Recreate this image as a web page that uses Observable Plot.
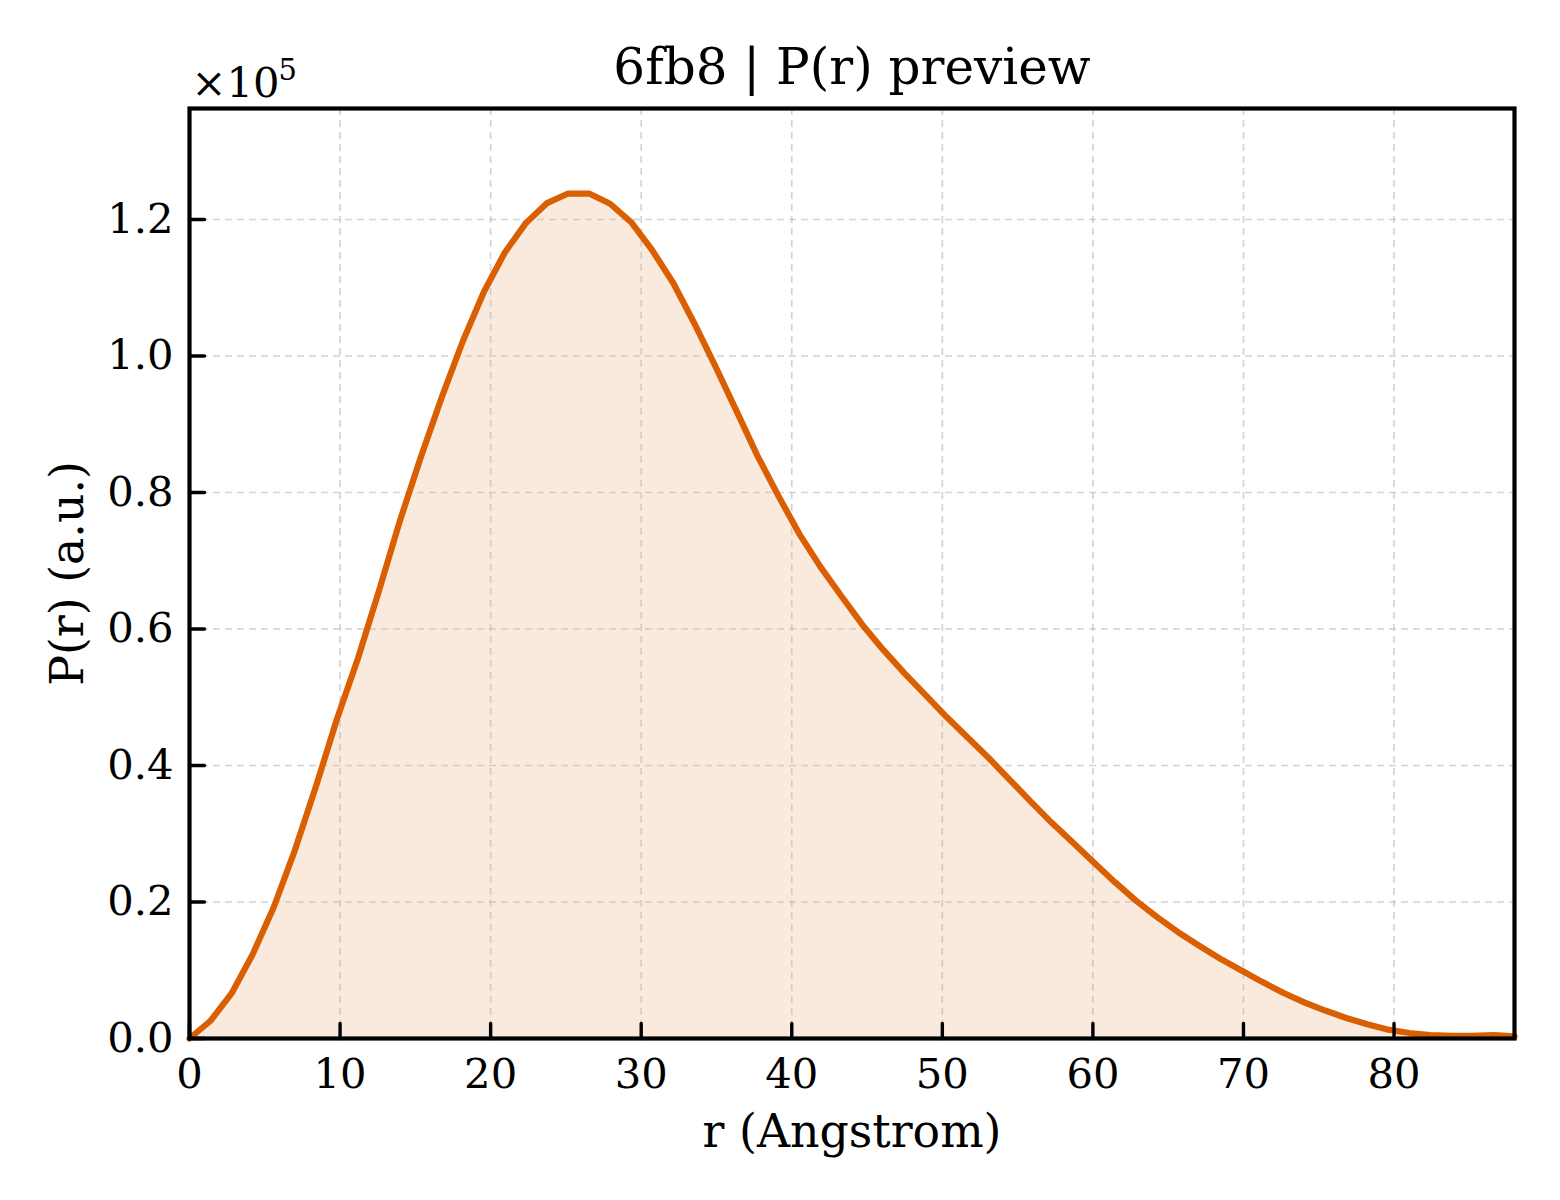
<!DOCTYPE html>
<html>
<head>
<meta charset="utf-8">
<script src="https://cdn.jsdelivr.net/npm/d3@7"></script>
<script src="https://cdn.jsdelivr.net/npm/@observablehq/plot@0.6"></script>
<style>
  html, body { margin: 0; padding: 0; background: #fff; }
  #chart { width: 1560px; height: 1200px; }
</style>
</head>
<body>
<div id="chart"></div>
<script>
// ---- data ----
const titleText = "6fb8 | P(r) preview";
const xLabel = "r (Angstrom)";
const yLabel = "P(r) (a.u.)";
const offsetBase = "×10";
const offsetExp = "5";
const rMax = 88;
const pValues = [
  0.000, 0.026, 0.066, 0.123, 0.192, 0.275, 0.368, 0.467, 0.556, 0.655,
  0.758, 0.852, 0.940, 1.022, 1.094, 1.152, 1.195, 1.224, 1.238, 1.238,
  1.223, 1.196, 1.155, 1.107, 1.048, 0.985, 0.920, 0.854, 0.795, 0.739,
  0.691, 0.648, 0.606, 0.569, 0.535, 0.503, 0.471, 0.441, 0.411, 0.379,
  0.347, 0.316, 0.287, 0.258, 0.229, 0.202, 0.178, 0.156, 0.136, 0.117,
  0.100, 0.083, 0.067, 0.053, 0.041, 0.030, 0.021, 0.013, 0.008, 0.005,
  0.004, 0.004, 0.005, 0.003
].map(v => v * 1e5);
const rValues = pValues.map((_, i) => i * rMax / (pValues.length - 1));
const xTicks = [0, 10, 20, 30, 40, 50, 60, 70, 80];
const yTicks = [0, 20000, 40000, 60000, 80000, 100000, 120000];
const yMax = 136260;

const data = rValues.map((r, i) => ({r, p: pValues[i]}));

const lineColor = "#d95f02";
const font = "DejaVu Serif";

const tickUp = {draw(ctx, l) { ctx.moveTo(0, 0); ctx.lineTo(0, -l); }};

const chart = Plot.plot({
  width: 1560,
  height: 1200,
  marginLeft: 189,
  marginRight: 46,
  marginTop: 108,
  marginBottom: 162,
  style: {fontFamily: font, background: "#fff", color: "#000"},
  x: {domain: [0, rMax], ticks: xTicks},
  y: {domain: [0, yMax], ticks: yTicks},
  marks: [
    Plot.areaY(data, {x: "r", y: "p", fill: lineColor, fillOpacity: 0.13}),
    Plot.gridX(xTicks, {stroke: "#b8b8b8", strokeOpacity: 0.6, strokeWidth: 1.7, strokeDasharray: "7,5"}),
    Plot.gridY(yTicks, {stroke: "#b8b8b8", strokeOpacity: 0.6, strokeWidth: 1.7, strokeDasharray: "7,5"}),
    Plot.lineY(data, {x: "r", y: "p", stroke: lineColor, strokeWidth: 6.2, strokeLinejoin: "round"}),
    Plot.vector(xTicks, {x: d => d, frameAnchor: "bottom", length: 15, anchor: "start", rotate: 0, shape: tickUp, stroke: "#000", strokeWidth: 3.4}),
    Plot.vector(yTicks, {y: d => d, frameAnchor: "left", length: 15, anchor: "start", rotate: 90, shape: tickUp, stroke: "#000", strokeWidth: 3.4}),
    Plot.axisX(xTicks, {tickSize: 0, tickPadding: 20, fontSize: 41.7, label: null, tickFormat: d => String(d)}),
    Plot.axisY(yTicks, {tickSize: 0, tickPadding: 16, fontSize: 41.7, label: null, tickFormat: d => (d / 1e5).toFixed(1)}),
    Plot.frame({stroke: "#000", strokeWidth: 4.2}),
    Plot.text([titleText], {frameAnchor: "top", dy: -25, fontSize: 50, lineAnchor: "bottom", fill: "#000"}),
    Plot.text([offsetBase], {frameAnchor: "top-left", dx: 2, dy: -12, fontSize: 41.7, textAnchor: "start", lineAnchor: "bottom", fill: "#000"}),
    Plot.text([offsetExp], {frameAnchor: "top-left", dx: 89, dy: -29, fontSize: 29, textAnchor: "start", lineAnchor: "bottom", fill: "#000"}),
    Plot.text([xLabel], {frameAnchor: "bottom", dy: 108, fontSize: 45.8, lineAnchor: "bottom", fill: "#000"}),
    Plot.text([yLabel], {frameAnchor: "left", dx: -121, fontSize: 45.8, rotate: -90, textAnchor: "middle", lineAnchor: "middle", fill: "#000"})
  ]
});
document.getElementById("chart").appendChild(chart);
</script>
</body>
</html>
